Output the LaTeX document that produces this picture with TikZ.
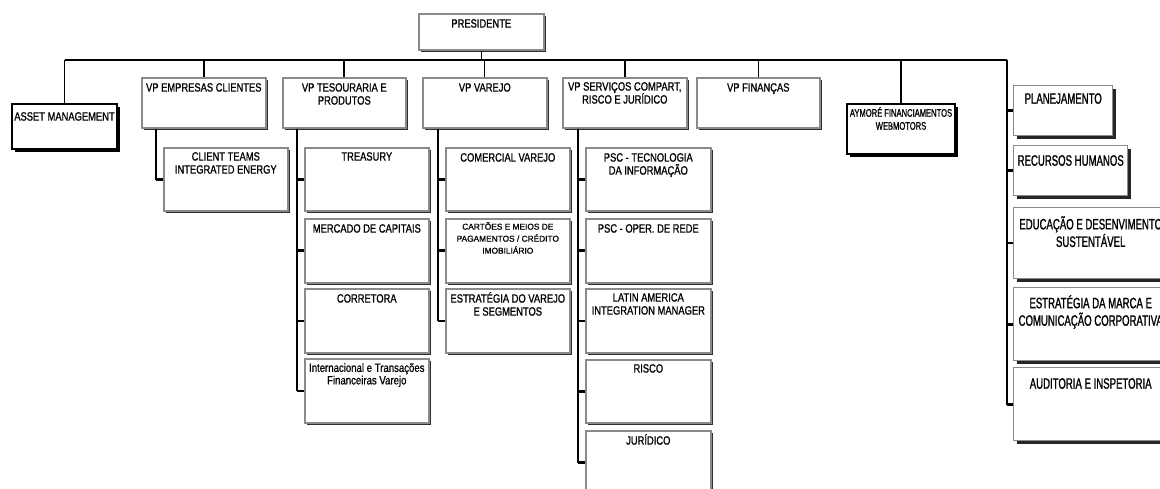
\documentclass[tikz,border=0pt]{standalone}
\usepackage{fontspec}
\setmainfont{Liberation Sans}
\newfontfamily\fA{Liberation Sans}[FakeStretch=0.78,FakeBold=1]
\newfontfamily\fB{Liberation Sans}[FakeStretch=0.64,FakeBold=1.2]
\newfontfamily\fC{Liberation Sans}[FakeStretch=0.69,FakeBold=1]
\newfontfamily\fD{Liberation Sans}[FakeStretch=0.98,FakeBold=1]
\newfontfamily\fE{Liberation Sans}[FakeStretch=0.80,FakeBold=0.8]
\usetikzlibrary{shadows}
\definecolor{bordergray}{HTML}{8A8A8A}
\definecolor{shadowgray}{HTML}{2E2E2E}
\begin{document}
\begin{tikzpicture}[x=1pt,y=-1pt,
  orgbox/.style={draw=bordergray, line width=1.6pt, fill=white, anchor=north west,
    inner sep=0pt, general shadow={fill=shadowgray, shadow xshift=2.2pt, shadow yshift=-2.2pt}},
  blackbox/.style={draw=black, line width=2pt, fill=white, anchor=north west,
    inner sep=0pt, general shadow={fill=black, shadow xshift=3pt, shadow yshift=-3pt}},
  rbox/.style={draw=bordergray, line width=1.4pt, fill=white, anchor=north west,
    inner sep=0pt, general shadow={fill=black!85, shadow xshift=3pt, shadow yshift=-3pt}},
  txt/.style={anchor=north, inner sep=0pt, align=center, font=\fA\fontsize{12}{13}\selectfont},
  rtxt/.style={txt, font=\fB\fontsize{15}{17.5}\selectfont},
  conn/.style={line width=1.2pt},
  thickconn/.style={line width=2.2pt},
  stub/.style={line width=2.6pt},
]
\fill[white] (0,0) rectangle (1160,489);
\path[use as bounding box, clip] (0,0) rectangle (1160,489);

\coordinate (busL) at (65,60);
\coordinate (busR) at (1007,60);

% ---- top level ----
\node[orgbox, minimum width=125pt, minimum height=36pt,
  label={[txt, yshift=-6pt]north:PRESIDENTE}] (pres) at (418,13) {};

\node[blackbox, minimum width=105pt, minimum height=45pt,
  label={[txt, yshift=-9pt]north:ASSET MANAGEMENT}] (asset) at (11,103) {};
\node[orgbox, minimum width=124pt, minimum height=50pt,
  label={[txt, yshift=-6pt]north:VP EMPRESAS CLIENTES}] (vpemp) at (141,77) {};
\node[orgbox, minimum width=123pt, minimum height=50pt,
  label={[txt, yshift=-6pt]north:VP TESOURARIA E\\PRODUTOS}] (vptes) at (282,77) {};
\node[orgbox, minimum width=124pt, minimum height=50pt,
  label={[txt, yshift=-6pt]north:VP VAREJO}] (vpvar) at (422,77) {};
\node[orgbox, minimum width=124pt, minimum height=50pt,
  label={[txt, yshift=-5pt]north:VP SERVIÇOS COMPART,\\RISCO E JURÍDICO}] (vpserv) at (562,77) {};
\node[orgbox, minimum width=123pt, minimum height=50pt,
  label={[txt, yshift=-6pt]north:VP FINANÇAS}] (vpfin) at (696,77) {};
\node[blackbox, minimum width=108pt, minimum height=50pt,
  label={[txt, font=\fC\fontsize{11}{13}\selectfont, yshift=-4pt]north:AYMORÉ FINANCIAMENTOS\\WEBMOTORS}] (aym) at (846,103) {};

% ---- VP Empresas ----
\node[orgbox, minimum width=124pt, minimum height=63pt,
  label={[txt, yshift=-5pt]north:CLIENT TEAMS\\INTEGRATED ENERGY}] (client) at (163,147) {};

% ---- VP Tesouraria ----
\node[orgbox, minimum width=124pt, minimum height=63pt,
  label={[txt, yshift=-5pt]north:TREASURY}] (treas) at (304,147) {};
\node[orgbox, minimum width=124pt, minimum height=64pt,
  label={[txt, yshift=-6pt]north:MERCADO DE CAPITAIS}] (merc) at (304,218) {};
\node[orgbox, minimum width=124pt, minimum height=64pt,
  label={[txt, yshift=-6pt]north:CORRETORA}] (corr) at (304,288) {};
\node[orgbox, minimum width=124pt, minimum height=64pt,
  label={[txt, font=\fE\fontsize{12}{12.5}\selectfont, yshift=-5pt]north:Internacional e Transações\\Financeiras Varejo}] (inter) at (304,358) {};

% ---- VP Varejo ----
\node[orgbox, minimum width=124pt, minimum height=63pt,
  label={[txt, yshift=-6pt]north:COMERCIAL VAREJO}] (comv) at (445,147) {};
\node[orgbox, minimum width=124pt, minimum height=64pt,
  label={[txt, font=\fD\fontsize{8.5}{12}\selectfont, yshift=-4pt]north:CARTÕES E MEIOS DE\\PAGAMENTOS / CRÉDITO\\IMOBILIÁRIO}] (cart) at (445,218) {};
\node[orgbox, minimum width=124pt, minimum height=64pt,
  label={[txt, yshift=-4pt]north:ESTRATÉGIA DO VAREJO\\E SEGMENTOS}] (estv) at (445,288) {};

% ---- VP Servicos ----
\node[orgbox, minimum width=125pt, minimum height=63pt,
  label={[txt, yshift=-6pt]north:PSC - TECNOLOGIA\\DA INFORMAÇÃO}] (psti) at (585,147) {};
\node[orgbox, minimum width=125pt, minimum height=64pt,
  label={[txt, yshift=-6pt]north:PSC - OPER. DE REDE}] (psop) at (585,218) {};
\node[orgbox, minimum width=125pt, minimum height=64pt,
  label={[txt, yshift=-5pt]north:LATIN AMERICA\\INTEGRATION MANAGER}] (latin) at (585,288) {};
\node[orgbox, minimum width=125pt, minimum height=63pt,
  label={[txt, yshift=-5pt]north:RISCO}] (risco) at (585,359) {};
\node[orgbox, minimum width=125pt, minimum height=63pt,
  label={[txt, yshift=-4pt]north:JURÍDICO}] (jur) at (585,430) {};

% ---- right column ----
\node[rbox, minimum width=99pt, minimum height=50pt,
  label={[rtxt, yshift=-8pt]north:PLANEJAMENTO}] (plan) at (1013,85) {};
\node[rbox, minimum width=114pt, minimum height=50pt,
  label={[rtxt, yshift=-10pt]north:RECURSOS HUMANOS}] (rh) at (1013,145) {};
\node[rbox, minimum width=154pt, minimum height=71pt,
  label={[rtxt, yshift=-9pt]north:EDUCAÇÃO E DESENVIMENTO\\SUSTENTÁVEL}] (edu) at (1013,207) {};
\node[rbox, minimum width=154pt, minimum height=73pt,
  label={[rtxt, yshift=-8pt]north:ESTRATÉGIA DA MARCA E\\COMUNICAÇÃO CORPORATIVA}] (estr) at (1013,287) {};
\node[rbox, minimum width=154pt, minimum height=73pt,
  label={[rtxt, yshift=-11pt]north:AUDITORIA E INSPETORIA}] (aud) at (1013,367) {};

% ---- bus and drops ----
\draw[conn] (busL) -- (busR);
\draw[thickconn] (vpemp.north |- busL) -- (vpfin.north |- busL);
\draw[conn] (pres.south) -- (pres.south |- busL);
\draw[conn] (asset.north) -- (asset.north |- busL);
\draw[thickconn] (vpemp.north) -- (vpemp.north |- busL);
\draw[thickconn] (vptes.north) -- (vptes.north |- busL);
\draw[conn] (vpvar.north) -- (vpvar.north |- busL);
\draw[thickconn] (vpserv.north) -- (vpserv.north |- busL);
\draw[conn] (vpfin.north) -- (vpfin.north |- busL);
\draw[conn] (aym.north) -- (aym.north |- busL);

% ---- child connectors ----
\coordinate (empV) at ([xshift=15pt]vpemp.south west);
\coordinate (tesV) at ([xshift=15pt]vptes.south west);
\coordinate (varV) at ([xshift=16pt]vpvar.south west);
\coordinate (serV) at ([xshift=16pt]vpserv.south west);

\foreach \c in {client}{
  \draw[conn] (empV) |- (\c.west);
  \draw[stub] (\c.west) -- (\c.west -| empV);}
\foreach \c in {treas,merc,corr,inter}{
  \draw[conn] (tesV) |- (\c.west);
  \draw[stub] (\c.west) -- (\c.west -| tesV);}
\foreach \c in {comv,cart,estv}{
  \draw[conn] (varV) |- (\c.west);
  \draw[stub] (\c.west) -- (\c.west -| varV);}
\foreach \c in {psti,psop,latin,risco,jur}{
  \draw[conn] (serV) |- (\c.west);
  \draw[stub] (\c.west) -- (\c.west -| serV);}
\foreach \c in {plan,rh,edu,estr,aud}{
  \draw[conn] (busR) |- (\c.west);
  \draw[stub] (\c.west) -- (\c.west -| busR);}
\end{tikzpicture}
\end{document}
